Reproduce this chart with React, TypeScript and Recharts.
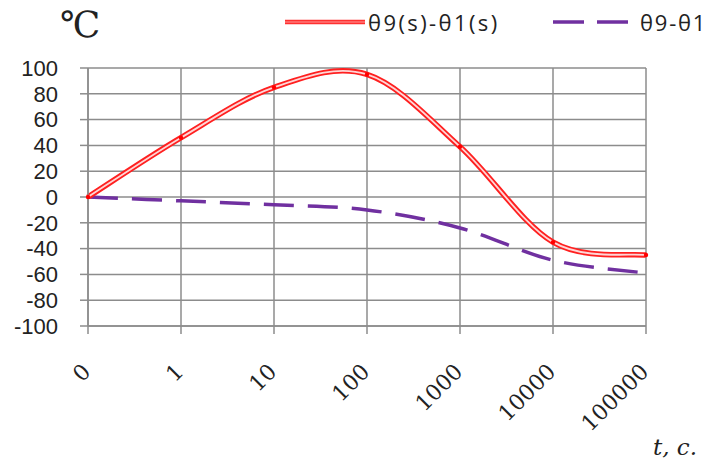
import { LineChart, Line, XAxis, YAxis, CartesianGrid } from 'recharts';

const times = ['0', '1', '10', '100', '1000', '10000', '100000'];
const smoothDiff = [0, 46, 85, 95, 39, -35, -45];
const plainDiff = [0, -3, -6, -10, -24, -49, -59];
const yTicks = [-100, -80, -60, -40, -20, 0, 20, 40, 60, 80, 100];

const data = times.map((t, i) => ({ t, smooth: smoothDiff[i], plain: plainDiff[i] }));

// Excel-like smoothed line (uniform Catmull-Rom through the points)
function excelSmooth(context: any) {
  let pts: number[][] = [];
  return {
    areaStart() {},
    areaEnd() {},
    lineStart() {
      pts = [];
    },
    point(x: number, y: number) {
      pts.push([+x, +y]);
    },
    lineEnd() {
      const n = pts.length;
      if (!n) return;
      context.moveTo(pts[0][0], pts[0][1]);
      for (let i = 0; i < n - 1; i++) {
        const p0 = pts[Math.max(0, i - 1)];
        const p1 = pts[i];
        const p2 = pts[i + 1];
        const p3 = pts[Math.min(n - 1, i + 2)];
        context.bezierCurveTo(
          p1[0] + (p2[0] - p0[0]) / 6,
          p1[1] + (p2[1] - p0[1]) / 6,
          p2[0] - (p3[0] - p1[0]) / 6,
          p2[1] - (p3[1] - p1[1]) / 6,
          p2[0],
          p2[1]
        );
      }
    },
  };
}

const font = '"Open Sans", "Noto Sans", sans-serif';
const serif = '"DejaVu Serif", "Liberation Serif", serif';

function XTick(props: any) {
  const { x, y, payload } = props;
  const ax = x + 4;
  const ay = y + 37;
  return (
    <text
      x={ax}
      y={ay}
      transform={`rotate(-45, ${ax}, ${ay})`}
      textAnchor="end"
      fontFamily={serif}
      fontSize={22}
      fill="#222"
    >
      {payload.value}
    </text>
  );
}

export default function App() {
  return (
    <div style={{ position: 'absolute', left: 0, top: 0, width: 711, height: 465, background: '#fff' }}>
      <div style={{ position: 'absolute', left: 60, top: 4, fontFamily: serif, fontSize: 36, color: '#222' }}>
        ℃
      </div>
      <div style={{ position: 'absolute', left: 285, top: 6, height: 32, display: 'flex', alignItems: 'center', fontFamily: font, fontSize: 22, letterSpacing: 2.4, color: '#222' }}>
        <svg width={80} height={10} style={{ marginRight: 3 }}>
          <line x1={0} y1={5} x2={80} y2={5} stroke="#ff3030" strokeWidth={4.5} />
          <line x1={0} y1={5} x2={80} y2={5} stroke="#ff9a9a" strokeWidth={1.2} />
        </svg>
        <span>θ9(s)-θ1(s)</span>
      </div>
      <div style={{ position: 'absolute', left: 553, top: 6, height: 32, display: 'flex', alignItems: 'center', fontFamily: font, fontSize: 22, letterSpacing: 1.8, color: '#222' }}>
        <svg width={75} height={10} style={{ marginRight: 12 }}>
          <line x1={0} y1={5} x2={75} y2={5} stroke="#7030a0" strokeWidth={3.5} strokeDasharray="31 13" />
        </svg>
        <span>θ9-θ1</span>
      </div>
      <div style={{ position: 'absolute', left: 653, top: 434, fontFamily: serif, fontStyle: 'italic', fontSize: 23, color: '#222' }}>
        t, c.
      </div>
      <LineChart width={711} height={465} data={data} margin={{ top: 68, right: 65, left: 0, bottom: 0 }}>
        <CartesianGrid stroke="#8c8c8c" strokeWidth={1.5} />
        <XAxis
          dataKey="t"
          height={139}
          interval={0}
          axisLine={{ stroke: '#8c8c8c', strokeWidth: 1.5 }}
          tickLine={{ stroke: '#8c8c8c', strokeWidth: 1.5 }}
          tickSize={8}
          tick={<XTick />}
        />
        <YAxis
          width={88}
          domain={[-100, 100]}
          ticks={yTicks}
          interval={0}
          axisLine={{ stroke: '#8c8c8c', strokeWidth: 1.5 }}
          tickLine={{ stroke: '#8c8c8c', strokeWidth: 1.5 }}
          tickSize={8}
          tickMargin={22}
          tick={{ fontFamily: '"Liberation Sans", Arial, sans-serif', fontSize: 22, fill: '#222' }}
        />
        <Line
          dataKey="plain"
          type={excelSmooth as any}
          stroke="#7030a0"
          strokeWidth={3.5}
          strokeDasharray="30 14"
          dot={false}
          isAnimationActive={false}
        />
        <Line
          dataKey="smooth"
          type={excelSmooth as any}
          stroke="#ff2020"
          strokeWidth={5.5}
          dot={false}
          isAnimationActive={false}
        />
        <Line
          dataKey="smooth"
          type={excelSmooth as any}
          stroke="#ffd6d6"
          strokeWidth={1.8}
          dot={{ r: 2.2, fill: '#ff0000', stroke: 'none' }}
          isAnimationActive={false}
        />
      </LineChart>
    </div>
  );
}
